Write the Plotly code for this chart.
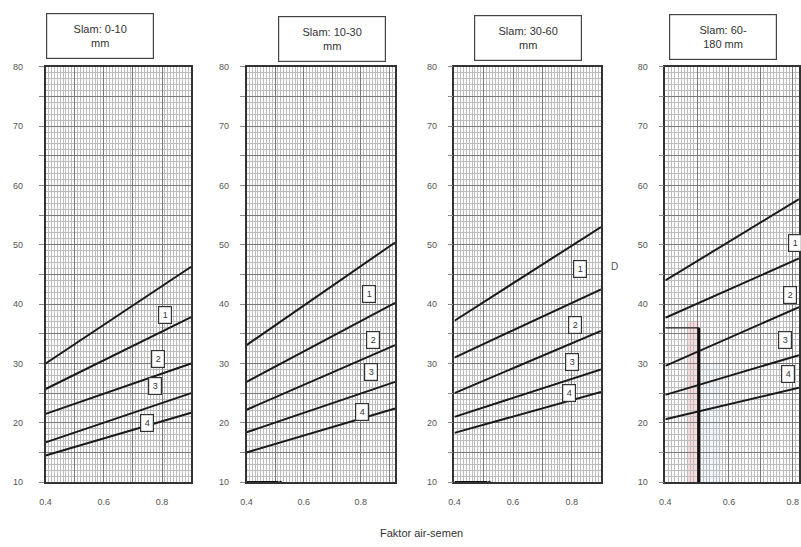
import plotly.graph_objects as go

# ---------------- data ----------------
panel_titles = ["Slam: 0-10<br>mm", "Slam: 10-30<br>mm", "Slam: 30-60<br>mm", "Slam: 60-<br>180 mm"]
x_axis_title = "Faktor air-semen"

x_start = 0.4
x_end = [0.9, 0.92, 0.9, 0.82]          # right end of each boundary line (per panel)

# boundary lines (value at x_start, value at x_end), top to bottom
lines_p1 = [[30.0, 46.3], [25.7, 37.8], [21.5, 30.0], [16.7, 25.0], [14.5, 21.7]]
lines_p2 = [[33.1, 50.4], [26.9, 40.2], [22.2, 33.1], [18.4, 26.9], [15.0, 22.4]]
lines_p3 = [[37.2, 53.0], [31.0, 42.5], [25.0, 35.5], [21.0, 29.0], [18.3, 25.2]]
lines_p4 = [[44.0, 57.7], [37.7, 47.7], [29.6, 39.5], [24.7, 31.4], [20.6, 25.9]]
all_lines = [lines_p1, lines_p2, lines_p3, lines_p4]

zone_labels = ["1", "2", "3", "4"]
zone_x_p1 = [0.811, 0.787, 0.777, 0.749]
zone_y_p1 = [38.2, 30.8, 26.2, 20.0]
zone_x_p2 = [0.830, 0.841, 0.834, 0.803]
zone_y_p2 = [41.7, 34.0, 28.6, 21.9]
zone_x_p3 = [0.829, 0.812, 0.802, 0.792]
zone_y_p3 = [46.0, 36.5, 30.2, 25.0]
zone_x_p4 = [0.807, 0.791, 0.776, 0.785]
zone_y_p4 = [50.3, 41.5, 34.0, 28.3]
zone_x = [zone_x_p1, zone_x_p2, zone_x_p3, zone_x_p4]
zone_y = [zone_y_p1, zone_y_p2, zone_y_p3, zone_y_p4]

# reading markers
marker_x = [0.4, 0.52]       # short line at bottom of panels 2 and 3
marker_y = [10, 10]
wc_read = 0.505              # panel 4 reading
pct_read = 36
band_left = 0.47

x_ranges = [[0.4, 0.9], [0.4, 0.92], [0.4, 0.9], [0.4, 0.82]]
y_range = [10, 80]
y_tickvals = list(range(10, 81, 5))
y_ticktext = [str(v) if v % 10 == 0 else "" for v in y_tickvals]
x_tickvals = [0.4, 0.5, 0.6, 0.7, 0.8, 0.9]
x_ticktext = ["0.4", "", "0.6", "", "0.8", ""]

# ---------------- layout geometry ----------------
W, H = 801, 547
px_x = [(40, 187), (243, 393), (453, 601), (666, 801)]
top_px, bot_px = 63, 486
ydom = [1 - bot_px / H, 1 - top_px / H]
title_centers = [(95, 32), (329, 34.5), (527.5, 33.5), (724, 32.5)]
standoffs = [14, 9, 9, 9]

FONT = "Liberation Sans, Arial, sans-serif"
fig = go.Figure()

for i in range(4):
    ax = "" if i == 0 else str(i + 1)
    xref, yref = "x" + ax, "y" + ax
    for (y0, y1) in all_lines[i]:
        fig.add_trace(go.Scatter(x=[x_start, x_end[i]], y=[y0, y1], mode="lines",
                                 line=dict(color="#1a1a1a", width=2),
                                 xaxis=xref, yaxis=yref, showlegend=False, hoverinfo="skip"))
    for k, lab in enumerate(zone_labels):
        fig.add_annotation(x=zone_x[i][k], y=zone_y[i][k], xref=xref, yref=yref, text=lab,
                           xanchor="center", yanchor="middle",
                           showarrow=False, font=dict(size=9, color="#333", family=FONT),
                           bgcolor="white", bordercolor="#333", borderwidth=1.2, borderpad=1,
                           width=10, height=14)
    xd = [px_x[i][0] / W, px_x[i][1] / W]
    fig.update_layout(**{
        "xaxis" + ax: dict(domain=xd, range=x_ranges[i], tickvals=x_tickvals, ticktext=x_ticktext,
                           showgrid=True, gridcolor="#7a7a7a", gridwidth=1,
                           minor=dict(dtick=0.01, tick0=0.4, showgrid=True, gridcolor="#bdbdbd", gridwidth=0.7),
                           showline=True, linecolor="#333", linewidth=1.5, mirror=True,
                           ticks="", ticklabelstandoff=10,
                           tickfont=dict(size=9, color="#555", family=FONT),
                           zeroline=False, anchor=yref, fixedrange=True),
        "yaxis" + ax: dict(domain=ydom, range=y_range, tickvals=y_tickvals, ticktext=y_ticktext,
                           showgrid=True, gridcolor="#7a7a7a", gridwidth=1,
                           minor=dict(dtick=1, showgrid=True, gridcolor="#bdbdbd", gridwidth=0.7),
                           showline=True, linecolor="#333", linewidth=1.5, mirror=True,
                           ticks="outside", ticklen=5, tickcolor="#888",
                           ticklabelstandoff=standoffs[i],
                           tickfont=dict(size=9, color="#555", family=FONT),
                           zeroline=False, anchor=xref, fixedrange=True),
    })
    cx, cy = title_centers[i]
    fig.add_annotation(x=cx / W, y=1 - cy / H, xref="paper", yref="paper", text=panel_titles[i],
                       xanchor="center", yanchor="middle", valign="middle",
                       showarrow=False, font=dict(size=11, color="#333", family=FONT),
                       bgcolor="white", bordercolor="#444", borderwidth=1.2, borderpad=2,
                       width=102, height=40, align="center")

# short reading lines in panels 2 and 3
for ax in ["2", "3"]:
    fig.add_trace(go.Scatter(x=marker_x, y=marker_y, mode="lines+markers",
                             line=dict(color="#111", width=2), marker=dict(size=[0, 4], color="#111"),
                             xaxis="x" + ax, yaxis="y" + ax, showlegend=False, hoverinfo="skip",
                             cliponaxis=False))

# panel 4 reading
fig.add_shape(type="rect", xref="x4", yref="y4", x0=band_left, x1=wc_read, y0=10, y1=pct_read + 1,
              fillcolor="rgba(240,150,150,0.35)", line=dict(width=0), layer="below")
fig.add_shape(type="rect", xref="x4", yref="y4", x0=wc_read, x1=0.58, y0=10, y1=pct_read - 6,
              fillcolor="rgba(170,200,240,0.15)", line=dict(width=0), layer="below")
fig.add_trace(go.Scatter(x=[x_start, wc_read], y=[pct_read, pct_read], mode="lines",
                         line=dict(color="#222", width=1.2), xaxis="x4", yaxis="y4",
                         showlegend=False, hoverinfo="skip"))
fig.add_trace(go.Scatter(x=[wc_read, wc_read], y=[pct_read, 10], mode="lines",
                         line=dict(color="#111", width=3), xaxis="x4", yaxis="y4",
                         showlegend=False, hoverinfo="skip"))

# stray mark right of panel 3
fig.add_annotation(x=615 / W, y=1 - 266 / H, xref="paper", yref="paper", text="D", showarrow=False,
                   xanchor="center", yanchor="middle",
                   font=dict(size=10, color="#555", family=FONT))

fig.add_annotation(x=420 / W, y=1 - 538 / H, xref="paper", yref="paper", text=x_axis_title,
                   xanchor="center", yanchor="middle",
                   showarrow=False, font=dict(size=11, color="#333", family=FONT))

fig.update_layout(width=W, height=H, margin=dict(l=0, r=0, t=0, b=0),
                  paper_bgcolor="white", plot_bgcolor="white", showlegend=False)

fig.write_html("out.html")
